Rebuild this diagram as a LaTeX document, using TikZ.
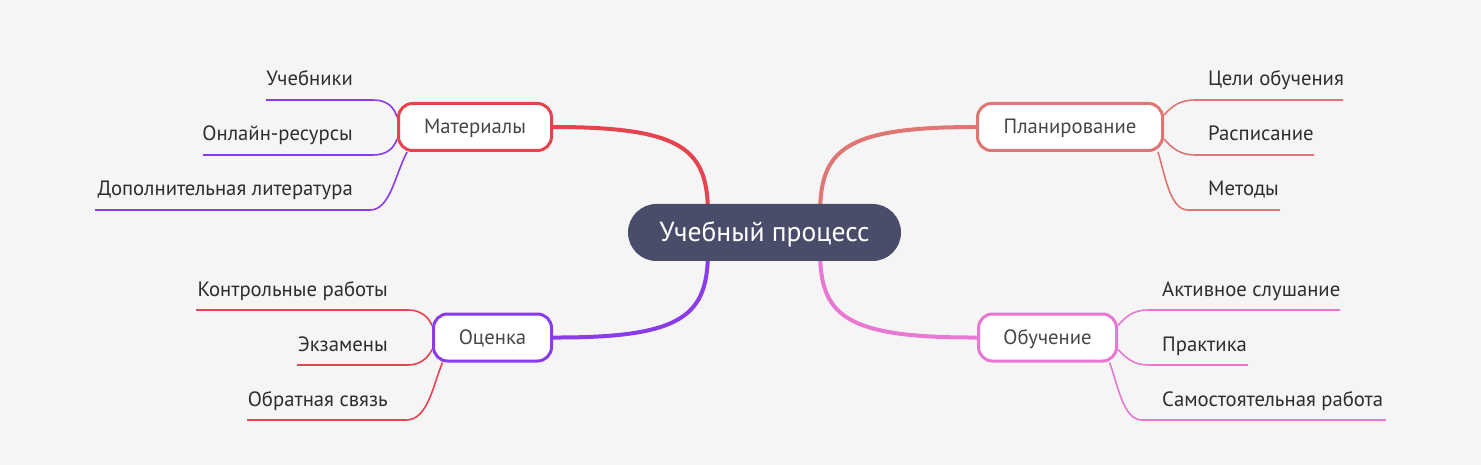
\documentclass[tikz,border=0pt]{standalone}
\usepackage{fontspec}
\setmainfont{PT Sans}
\definecolor{bg}{HTML}{F5F5F5}
\definecolor{cdark}{HTML}{4A4D6A}
\definecolor{cred}{HTML}{E6434F}
\definecolor{csal}{HTML}{E07674}
\definecolor{cpur}{HTML}{8A3BEA}
\definecolor{cpink}{HTML}{E878D3}
\definecolor{ctext}{HTML}{2E2E2E}
\definecolor{cntext}{HTML}{474747}
\pgfdeclarelayer{bglayer}
\pgfdeclarelayer{edgelayer}
\pgfsetlayers{bglayer,edgelayer,main}
\tikzset{
  rootbox/.style={fill=cdark, draw=none, rounded corners=28.5pt, minimum width=273pt, minimum height=57pt, text=white, font=\fontsize{27.6}{32}\selectfont, inner sep=0pt, text height=19pt, text depth=0pt},
  topicbox/.style={fill=white, line width=3pt, rounded corners=14pt, minimum height=47pt, inner sep=0pt, text=cntext, font=\fontsize{20.7}{24}\selectfont, text height=14pt, text depth=0pt},
  leafL/.style={anchor=base east, inner sep=0pt, text=ctext, font=\fontsize{20.7}{24}\selectfont},
  leafR/.style={anchor=base west, inner sep=0pt, text=ctext, font=\fontsize{20.7}{24}\selectfont},
  mainedge/.style={line width=4pt},
  leafedge/.style={line width=1.6pt},
}
\begin{document}
\begin{tikzpicture}[x=1pt,y=-1pt]
\begin{pgfonlayer}{bglayer}
\useasboundingbox[fill=bg] (0,0) rectangle (1481,465);
\end{pgfonlayer}

% topic boxes
\node[topicbox, draw=cred, minimum width=153pt] (mat) at (475,127) {Материалы};
\node[topicbox, draw=csal, minimum width=185pt] (plan) at (1070,127) {Планирование};
\node[topicbox, draw=cpur, minimum width=118pt] (ocen) at (492.5,337.5) {Оценка};
\node[topicbox, draw=cpink, minimum width=138pt] (obuch) at (1047.5,337.5) {Обучение};

\node[rootbox] (root) at (764.5,232.5) {Учебный процесс};

% root attach points (hidden under the root node)
\coordinate (rtl) at (708,215);
\coordinate (rtr) at (820,215);
\coordinate (rbl) at (708,250);
\coordinate (rbr) at (820,250);

% leaves
\node[leafL] (m1) at (353,86) {Учебники};
\node[leafL] (m2) at (353,141) {Онлайн-ресурсы};
\node[leafL] (m3) at (353,196) {Дополнительная литература};
\node[leafR] (p1) at (1208,86) {Цели обучения};
\node[leafR] (p2) at (1208,141) {Расписание};
\node[leafR] (p3) at (1208,196) {Методы};
\node[leafL] (o1) at (388,296) {Контрольные работы};
\node[leafL] (o2) at (388,351) {Экзамены};
\node[leafL] (o3) at (388,406) {Обратная связь};
\node[leafR] (b1) at (1162,296) {Активное слушание};
\node[leafR] (b2) at (1162,351) {Практика};
\node[leafR] (b3) at (1162,406) {Самостоятельная работа};

\coordinate (m1a) at (266,100); \coordinate (m1b) at (373,100);
\coordinate (m2a) at (203,155); \coordinate (m2b) at (373,155);
\coordinate (m3a) at (95,210);  \coordinate (m3b) at (370,210);
\coordinate (p1b) at (1343,100); \coordinate (p1a) at (1195,100);
\coordinate (p2b) at (1314,155); \coordinate (p2a) at (1195,155);
\coordinate (p3b) at (1280,210); \coordinate (p3a) at (1188,210);
\coordinate (o1a) at (196,310); \coordinate (o1b) at (408,310);
\coordinate (o2a) at (297,365); \coordinate (o2b) at (408,365);
\coordinate (o3a) at (247,420); \coordinate (o3b) at (406,420);
\coordinate (b1a) at (1148,310); \coordinate (b1b) at (1340,310);
\coordinate (b2a) at (1148,365); \coordinate (b2b) at (1248,365);
\coordinate (b3a) at (1142,420); \coordinate (b3b) at (1386,420);

\begin{pgfonlayer}{edgelayer}
% main edges
\draw[mainedge, cred] (mat.east) .. controls (685,127) and (708,150) .. (rtl);
\draw[mainedge, csal] (plan.west) .. controls (843,127) and (820,150) .. (rtr);
\draw[mainedge, cpur] (ocen.east) .. controls (685,338) and (708,315) .. (rbl);
\draw[mainedge, cpink] (obuch.west) .. controls (843,338) and (820,315) .. (rbr);

% Материалы leaves
\draw[leafedge, cpur] (m1a) -- (m1b) .. controls (387,100) and (394,107) .. ([yshift=10pt]mat.west);
\draw[leafedge, cpur] (m2a) -- (m2b) .. controls (387,155) and (394,148) .. ([yshift=-12pt]mat.west);
\draw[leafedge, cpur] (m3a) -- (m3b) .. controls (390,210) and (395,175) .. ([xshift=-68pt]mat.south);
% Планирование leaves
\draw[leafedge, csal] ([yshift=12pt]plan.east) .. controls (1172,106) and (1180,100) .. (p1a) -- (p1b);
\draw[leafedge, csal] ([yshift=-12pt]plan.east) .. controls (1172,148) and (1180,155) .. (p2a) -- (p2b);
\draw[leafedge, csal] ([xshift=88pt]plan.south) .. controls (1165,175) and (1170,210) .. (p3a) -- (p3b);
% Оценка leaves
\draw[leafedge, cred] (o1a) -- (o1b) .. controls (420,310) and (428,316) .. ([yshift=12pt]ocen.west);
\draw[leafedge, cred] (o2a) -- (o2b) .. controls (420,365) and (428,358) .. ([yshift=-12pt]ocen.west);
\draw[leafedge, cred] (o3a) -- (o3b) .. controls (428,420) and (433,385) .. ([xshift=-50pt]ocen.south);
% Обучение leaves
\draw[leafedge, cpink] ([yshift=12pt]obuch.east) .. controls (1126,316) and (1134,310) .. (b1a) -- (b1b);
\draw[leafedge, cpink] ([yshift=-12pt]obuch.east) .. controls (1126,358) and (1134,365) .. (b2a) -- (b2b);
\draw[leafedge, cpink] ([xshift=62pt]obuch.south) .. controls (1118,385) and (1123,420) .. (b3a) -- (b3b);
\end{pgfonlayer}
\end{tikzpicture}
\end{document}
